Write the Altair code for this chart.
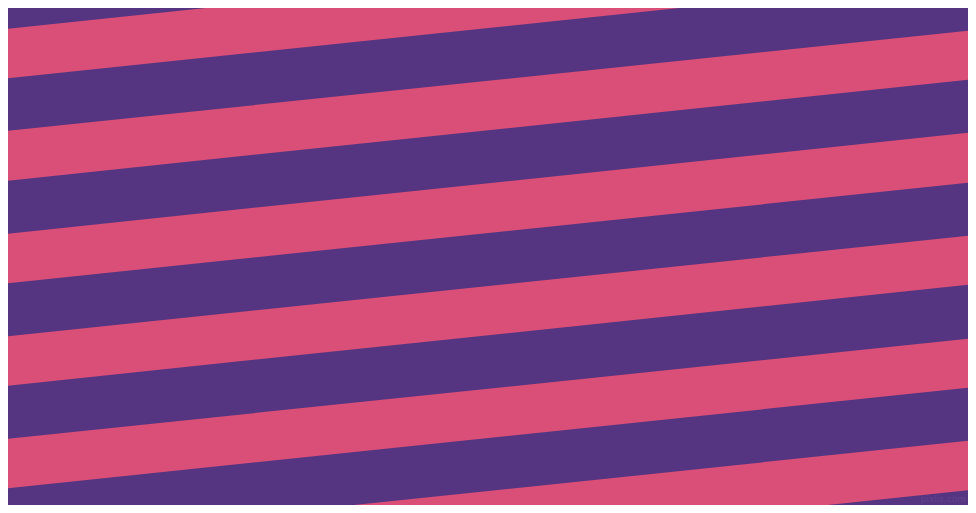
import altair as alt
import pandas as pd

# Pink stripe boundaries (image pixel rows) read at the left edge (x=0) and right edge (x=976)
stripe_ids = [0, 1, 2, 3, 4, 5]
top_left = [29.5, 131.5, 234.5, 337.0, 439.5, 542.0]
bottom_left = [79.0, 181.5, 284.0, 386.5, 489.0, 591.5]
top_right = [-72.5, 30.0, 132.0, 235.0, 338.0, 440.0]
bottom_right = [-23.0, 79.0, 182.0, 284.0, 387.0, 489.5]
edge_x = [0, 976]

PURPLE = "#553581"
PINK = "#d94f77"

rows = []
for i, s in enumerate(stripe_ids):
    rows.append({"stripe": s, "x": edge_x[0], "top": top_left[i], "bottom": bottom_left[i]})
    rows.append({"stripe": s, "x": edge_x[1], "top": top_right[i], "bottom": bottom_right[i]})
df = pd.DataFrame(rows)

xs = alt.Scale(domain=[8, 968], nice=False, zero=False)
ys = alt.Scale(domain=[505, 8], nice=False, zero=False)

stripes = alt.Chart(df).mark_area(color=PINK, clip=True, opacity=1).encode(
    x=alt.X("x:Q", scale=xs, axis=None),
    y=alt.Y("top:Q", scale=ys, axis=None),
    y2="bottom:Q",
    detail="stripe:N",
)

wm = alt.Chart(pd.DataFrame({"t": ["pixlis.com"]})).mark_text(
    font="DejaVu Sans", fontSize=9, color="#6a4a98", opacity=0.6, align="right", baseline="bottom"
).encode(text="t:N", x=alt.value(958), y=alt.value(496))

chart = (stripes + wm).properties(
    width=960, height=497, padding=0, autosize=alt.AutoSizeParams(type="none")
).configure(background=PURPLE).configure_view(stroke=None, fill=PURPLE)

chart.save("out.html", embed_options={"renderer": "svg", "actions": False})
